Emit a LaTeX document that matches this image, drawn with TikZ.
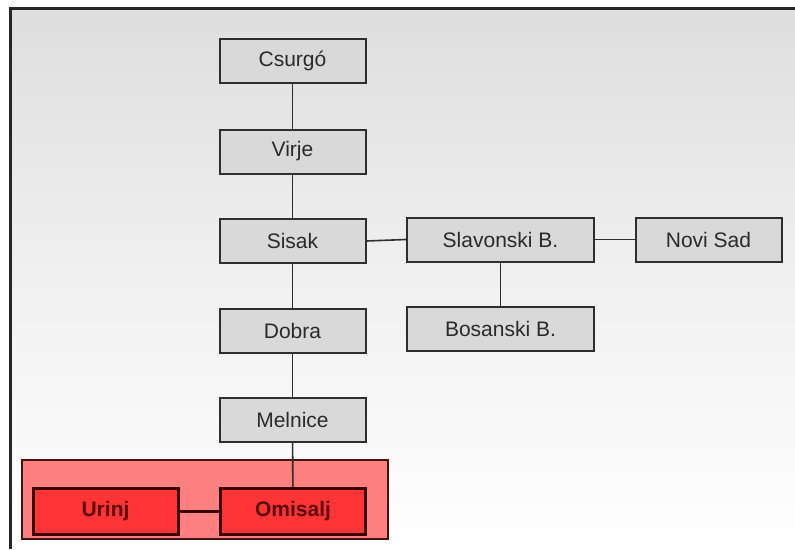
\documentclass[tikz,border=0pt]{standalone}
\usepackage{fontspec}
\setmainfont{Liberation Sans}
\definecolor{bgtop}{HTML}{DEDEDE}
\definecolor{boxfill}{HTML}{D9D9D9}
\definecolor{boxline}{HTML}{2E2E2E}
\definecolor{txt}{HTML}{2A2A2A}
\definecolor{grpfill}{HTML}{FF8080}
\definecolor{grpline}{HTML}{4A1010}
\definecolor{redfill}{HTML}{FF3535}
\definecolor{redline}{HTML}{3A0000}
\definecolor{redtxt}{HTML}{5A0808}
\begin{document}
\begin{tikzpicture}[x=1pt,y=-1pt,
  city/.style={draw=boxline,line width=2pt,fill=boxfill,minimum width=146pt,minimum height=44pt,inner sep=0pt,
    text=txt,font=\fontsize{21}{21}\selectfont},
  wide/.style={city,minimum width=187pt},
  hot/.style={draw=redline,line width=3pt,fill=redfill,minimum width=145pt,minimum height=46pt,inner sep=0pt,
    text=redtxt,font=\fontsize{21}{21}\selectfont\bfseries},
  link/.style={draw=boxline,line width=1.6pt}]
\useasboundingbox (0,0) rectangle (795,549);
\fill[white] (0,0) rectangle (795,549);
\shade[top color=bgtop,bottom color=white,middle color=bgtop!45!white] (10,8.5) rectangle (795,549);
\draw[line width=3pt,color=black!85] (10,549) -- (10,8.5) -- (795,8.5);
% group
\node[draw=grpline,line width=1.2pt,fill=grpfill,minimum width=366pt,minimum height=79pt,inner sep=0pt] (grp) at (205,499.5) {};
% nodes
\node[city] (csurgo) at (292.5,60.5) {Csurgó};
\node[city] (virje) at (292.5,151.5) {Virje};
\node[city] (sisak) at (292.5,241) {Sisak};
\node[wide] (slav) at (500.5,239.5) {Slavonski B.};
\node[city] (novi) at (708.5,239.5) {Novi Sad};
\node[wide] (bos) at (500.5,328.5) {Bosanski B.};
\node[city] (dobra) at (292.5,331) {Dobra};
\node[city] (meln) at (292.5,420) {Melnice};
\node[hot] (urinj) at (105.5,511.5) {Urinj};
\node[hot] (omis) at (293,511.5) {Omisalj};
% connectors
\draw[link] (csurgo) -- (virje);
\draw[link] (virje) -- (sisak);
\draw[link] (sisak) -- (dobra);
\draw[link] (dobra) -- (meln);
\draw[link] (meln) -- (omis);
\draw[link] (sisak.east) -- (slav.west);
\draw[link] (slav) -- (novi);
\draw[link] (slav) -- (bos);
\draw[draw=redline,line width=2.6pt] (urinj) -- (omis);
\end{tikzpicture}
\end{document}
